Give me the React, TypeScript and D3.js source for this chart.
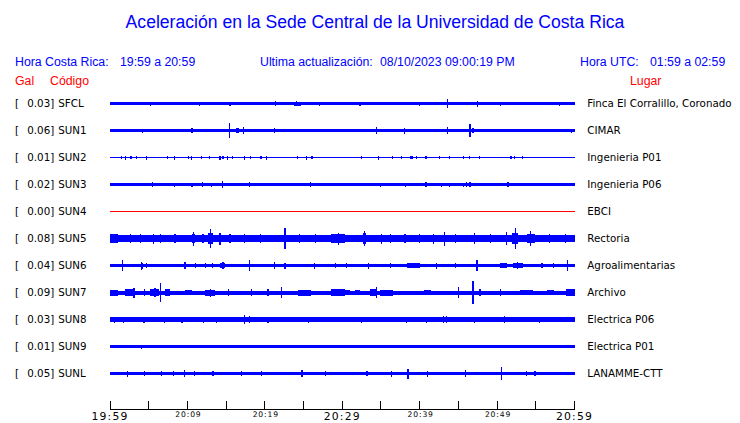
import { scaleLinear, range as d3range } from 'd3';

// one hour window, minutes after 19:59
const tickMinutes = d3range(0, 61, 5);
const majorLabels: [number, string][] = [[0, '19:59'], [30, '20:29'], [60, '20:59']];
const minorLabels: [number, string][] = [[10, '20:09'], [20, '20:19'], [40, '20:39'], [50, '20:49']];

const codes = ['SFCL', 'SUN1', 'SUN2', 'SUN3', 'SUN4', 'SUN5', 'SUN6', 'SUN7', 'SUN8', 'SUN9', 'SUNL'];
const galValues = ['0.03', '0.06', '0.01', '0.02', '0.00', '0.08', '0.04', '0.09', '0.03', '0.01', '0.05'];
const places = [
  'Finca El Corralillo, Coronado', 'CIMAR', 'Ingenieria P01', 'Ingenieria P06', 'EBCI',
  'Rectoria', 'Agroalimentarias', 'Archivo', 'Electrica P06', 'Electrica P01', 'LANAMME-CTT',
];
const traceColors = ['#0000ff', '#0000ff', '#0000ff', '#0000ff', '#ff0000', '#0000ff', '#0000ff', '#0000ff', '#0000ff', '#0000ff', '#0000ff'];

// background amplitude of each trace
const baseAmp = [1.5, 1.7, 0.5, 1.5, 0.5, 3.7, 1.7, 2, 2.2, 1.2, 1.8];

// [minute, amplitude, duration]
const sfclSpikes = [[5.2, 2], [11.6, 2], [15.5, 2], [21.4, 2.3], [23.8, 2, 0.9], [24.1, 2.6], [27.1, 2], [32.3, 2], [40, 2], [43.6, 4.5], [47.5, 3], [50.4, 2], [58.1, 2]];
const sun1Spikes = [[4.2, 2], [10.6, 2.2], [15.4, 7.7], [16.3, 2.6, 0.4], [17.2, 3.5], [21.3, 2.5], [34.4, 3.3], [38, 3], [43.6, 3.5], [46.5, 6.2], [46.9, 2.5], [59.6, 2]];
const sun2Spikes = [[1.5, 1.5], [2, 2], [2.7, 1.5], [3.4, 1.5], [4.7, 2], [7.4, 1.5], [8.3, 2], [10.1, 1.5], [10.5, 2], [11.8, 1.5], [12.9, 1.5], [14.2, 2], [14.6, 1.5], [15.2, 2], [15.8, 1.5], [17.4, 2], [18.2, 1.5], [19.5, 1.5], [20.2, 2], [24.2, 1.5], [25.4, 2], [26.1, 1.5], [32.5, 1.5], [34.7, 2], [36.5, 1.5], [37.7, 1.5], [38.8, 1.5, 0.3], [39.6, 1.5], [40.7, 1.5, 0.3], [42.6, 1.5], [43.9, 1.5], [45.7, 1.5], [46.4, 1.5], [47.7, 1.5], [51.8, 1.5], [52.2, 1.5], [53.3, 1.5]];
const sun3Spikes = [[5.5, 2.3], [8.3, 2], [10.6, 2], [11.9, 2.3], [13.1, 2], [14.5, 3.3], [18, 2.3], [19.4, 1.8], [25.9, 2.3], [34.9, 2], [38.2, 2], [40.7, 2.2, 0.3], [42.8, 2], [43.9, 2], [45.7, 2], [46.1, 2.3], [46.5, 2.3], [51.4, 2.3], [53.8, 1.8, 6.2]];
const sun4Spikes: number[][] = [];
const sun5Spikes = [[0, 4.2, 1], [2.6, 4.8], [3.9, 4.5], [5.6, 5], [6.5, 4.5], [8.4, 4.8], [10.6, 4.6, 0.4], [10.8, 7], [12, 4.5], [12.7, 5.2, 0.65], [13, 9.7], [14.2, 6], [15.5, 4.5], [17.4, 4.8], [19.4, 4.5], [22.6, 10.5], [24.5, 4.5], [26.5, 4.8], [28.6, 4.3, 1.7], [29.5, 6], [32.7, 5.5, 0.35], [32.9, 7.7], [35.1, 5], [36.2, 4.5], [38.1, 4.8], [40, 4.5], [41.8, 5], [43.2, 7], [44.6, 4.5], [47.1, 5.5], [49.1, 4.8], [51.2, 6.5], [51.9, 5.5, 0.85], [52.4, 10.7], [53.8, 4.8, 1.1], [54.3, 7.5], [56.8, 4.5], [58.8, 4.8]];
const sun6Spikes = [[1.6, 5.7], [4, 3, 0.3], [4.1, 4], [4.7, 2.5], [9.7, 3.5], [11, 2.5], [12.3, 2.5], [13.2, 2.5], [14.2, 2.6, 0.65], [14.6, 3.5], [18, 5.7], [21.3, 3.5], [22.6, 3], [26.4, 3], [29.1, 2.5], [30.6, 2.5], [33.4, 3], [36.2, 2.5], [38.3, 2.1, 1.7], [39, 2.6], [42.2, 3], [44.6, 2.5], [47.4, 5.8], [50.4, 2.1, 0.9], [52.1, 2.6, 1.3], [52.6, 3.5], [55.8, 2.5], [57.3, 2.5], [59.1, 5.3]];
const sun7Spikes = [[0, 3, 1], [1.9, 3.1, 1.3], [3.1, 5], [4.5, 3.5], [5.2, 3.3, 1.1], [5.8, 4.5], [6.5, 9.3], [7.1, 3.1, 0.65], [9.7, 2.8, 0.9], [12.3, 3, 1.3], [13, 4], [15.3, 3.5], [18.3, 3.5], [20.4, 3.5], [22.2, 5.2], [24.3, 3, 1.7], [28.6, 3.1, 1.7], [29.7, 2.8, 1.3], [31.6, 2.8, 0.65], [33.6, 3.4, 0.9], [34.4, 5.3], [34.9, 3, 1.7], [40.5, 2.8, 0.9], [45, 5.7], [46.9, 11.8], [47.8, 3.5], [50.4, 3.5], [53, 2.8, 1.7], [56.4, 2.8, 0.9], [58.9, 3.2, 1.1]];
const sun8Spikes = [[0.6, 3], [1.7, 3], [4.4, 3], [7, 3], [9.3, 3], [12.1, 3], [13.8, 3], [17.4, 4.5], [18, 3.5], [20.4, 3], [25.6, 3], [32.5, 3], [38.3, 3], [40.9, 3], [43.1, 3.3], [43.5, 3.3], [47.1, 3], [51, 3.3], [55.5, 3]];
const sun9Spikes = [[0.6, 1.8], [4.1, 2], [9.3, 1.8], [15.7, 1.8], [18.3, 1.8], [30.8, 1.8], [35.1, 1.8], [42.6, 1.5]];
const sunlSpikes = [[2.3, 3], [4.5, 2.5], [6.7, 2.5], [8.2, 2.5], [9.6, 3.3], [10.9, 2.5], [13.3, 2.5], [17, 2.5], [19.6, 2.5], [24.8, 3.8], [27.8, 2.5], [33.2, 2.5], [36.4, 3], [38.5, 5], [41, 3], [45.9, 3.5], [50.6, 6.5], [53.8, 2.5], [54.9, 2.5]];

const allSpikes = [sfclSpikes, sun1Spikes, sun2Spikes, sun3Spikes, sun4Spikes, sun5Spikes, sun6Spikes, sun7Spikes, sun8Spikes, sun9Spikes, sunlSpikes];

const headFont = '"Liberation Sans", Arial, sans-serif';
const labelFont = '"DejaVu Sans", sans-serif';

export default function App() {
  const x = scaleLinear().domain([0, 60]).range([110, 574.5]);
  const row = scaleLinear().domain([0, codes.length - 1]).range([103.5, 373.5]);
  const amp = scaleLinear().domain([0, 10]).range([0, 10]);
  const axisY = 409;

  return (
    <svg width={740} height={423} style={{ position: 'absolute', left: 0, top: 0, background: '#fff' }}>
      <text x={375} y={28} textAnchor="middle" fontFamily={headFont} fontSize={17.6} fill="#0000ff">
        Aceleración en la Sede Central de la Universidad de Costa Rica
      </text>

      <g fontFamily={headFont} fontSize={12.3} fill="#0000ff">
        <text x={15} y={66}>Hora Costa Rica:</text>
        <text x={120} y={66}>19:59 a 20:59</text>
        <text x={260} y={66}>Ultima actualización:</text>
        <text x={380} y={66}>08/10/2023 09:00:19 PM</text>
        <text x={580} y={66}>Hora UTC:</text>
        <text x={650} y={66}>01:59 a 02:59</text>
      </g>
      <g fontFamily={headFont} fontSize={12.3} fill="#ff0000">
        <text x={15} y={85}>Gal</text>
        <text x={50} y={85}>Código</text>
        <text x={630} y={85}>Lugar</text>
      </g>

      {codes.map((code, i) => {
        const cy = row(i);
        const color = traceColors[i];
        const b = amp(baseAmp[i]);
        return (
          <g key={code}>
            <g fontFamily={labelFont} fontSize={10.3} fill="#000">
              <text x={15} y={cy + 3.8}>[</text>
              <text x={27.3} y={cy + 3.8}>{galValues[i]}]</text>
              <text x={58.3} y={cy + 3.8}>{code}</text>
              <text x={587.3} y={cy + 3.8}>{places[i]}</text>
            </g>
            <g fill={color} shapeRendering="crispEdges">
              <rect x={x(0)} y={cy - b} width={x(60) - x(0)} height={Math.max(1, 2 * b)} />
              {allSpikes[i].map((s, j) => {
                const a = amp(s[1]);
                const x0 = x(s[0]);
                const w = s[2] ? x(s[0] + s[2]) - x0 : 1.2;
                return <rect key={j} x={s[2] ? x0 : x0 - 0.6} y={cy - a} width={w} height={2 * a} />;
              })}
            </g>
          </g>
        );
      })}

      <g stroke="#000" strokeWidth={1} shapeRendering="crispEdges">
        <line x1={x(0)} x2={x(60)} y1={axisY} y2={axisY} />
        {tickMinutes.map((m) => (
          <line key={m} x1={x(m)} x2={x(m)} y1={axisY} y2={axisY - 8} />
        ))}
      </g>
      <g fontFamily={labelFont} fill="#000" textAnchor="middle">
        {majorLabels.map(([m, t]) => (
          <text key={t} x={x(m)} y={419.5} fontSize={10.8} letterSpacing={1.2}>{t}</text>
        ))}
        {minorLabels.map(([m, t]) => (
          <text key={t} x={x(m) + 1} y={416.8} fontSize={7.6} letterSpacing={0.9}>{t}</text>
        ))}
      </g>
    </svg>
  );
}
